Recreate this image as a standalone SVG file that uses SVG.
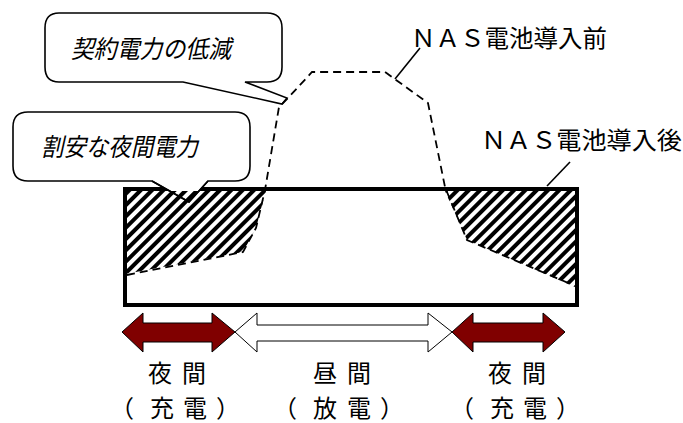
<svg xmlns="http://www.w3.org/2000/svg" width="683" height="423" viewBox="0 0 683 423">
<style>
.t{font-family:"Noto Sans CJK JP","Noto Sans",sans-serif;fill:#000}
.it{font-style:italic}
.bub{fill:#fff;stroke:#000;stroke-width:1.6;stroke-linejoin:miter}
.dash{fill:none;stroke:#000;stroke-width:1.8;stroke-dasharray:8 5}
.lead{fill:none;stroke:#000;stroke-width:1.6}
.red{fill:#800000;stroke:#000;stroke-width:1}
.wht{fill:#fff;stroke:#000;stroke-width:1}
</style>
<defs>
<pattern id="hatch" patternUnits="userSpaceOnUse" width="8" height="8" patternTransform="rotate(45)">
<rect x="0" y="0" width="4" height="8" fill="#000"/>
</pattern>
</defs>
<rect width="683" height="423" fill="#fff"/>
<g id="chart">
<polygon points="125,191 266,191 262,205 256,228 243,252 125,274" fill="#fff"/>
<polygon points="445,191 467,240 575,287 575,191" fill="#fff"/>
<rect x="125" y="189" width="452" height="116" fill="none" stroke="#000" stroke-width="4"/>
</g>
<g id="callout2">
<path class="bub" d="M28,112 H235 Q250,112 250,127 V166 Q250,181 235,181 H208 L189,202 L152,181 H28 Q13,181 13,166 V127 Q13,112 28,112 Z"/>
</g>
<g id="hatching">
<polygon points="125,191 266,191 262,205 256,228 243,252 125,274" fill="url(#hatch)"/>
<polygon points="445,191 467,240 575,287 575,191" fill="url(#hatch)"/>
<polyline class="lead" points="152,181 189,202 208,181"/>
</g>
<g id="callout1">
<path class="bub" d="M59,13 H267 Q282,13 282,28 V67 Q282,82 267,82 H245 L287,98 L282,104 L183,82 H59 Q45,82 45,67 V28 Q45,13 59,13 Z"/>
<text class="t it" x="71" y="58" font-size="25" textLength="160" lengthAdjust="spacingAndGlyphs">契約電力の低減</text>
</g>
<g id="callout2-text">
<text class="t it" x="41" y="156" font-size="25" textLength="157" lengthAdjust="spacingAndGlyphs">割安な夜間電力</text>
</g>
<g id="connectors">
<polyline class="dash" points="127,275 243,252 256,228 265,190 279,107 288,98 312,72 385,72 428,103 445,187 447,192 467,240 573,285"/>
<line class="lead" x1="395" y1="79" x2="420" y2="48"/>
<line class="lead" x1="547" y1="186" x2="570" y2="162"/>
</g>
<g id="label-before">
<text class="t" x="411" y="47" font-size="24" textLength="196" lengthAdjust="spacingAndGlyphs">ＮＡＳ電池導入前</text>
</g>
<g id="label-after">
<text class="t" x="481" y="149" font-size="24" textLength="201" lengthAdjust="spacingAndGlyphs">ＮＡＳ電池導入後</text>
</g>
<g id="arrow-night1">
<polygon class="red" points="122,332 143,313 143,323 212,323 212,313 235,332 212,352 212,342 143,342 143,352"/>
<text class="t" font-size="24"><tspan x="148 182" y="382">夜間</tspan><tspan x="110 150 183 216" y="417">（充電）</tspan></text>
</g>
<g id="arrow-day">
<polygon class="wht" points="235,332 257,313 257,325 428,325 428,313 452,332 428,352 428,341 257,341 257,352"/>
<text class="t" font-size="24"><tspan x="313 347" y="382">昼間</tspan><tspan x="273 313 347 380" y="417">（放電）</tspan></text>
</g>
<g id="arrow-night2">
<polygon class="red" points="452,332 473,313 473,323 543,323 543,313 565,332 543,352 543,342 473,342 473,352"/>
<text class="t" font-size="24"><tspan x="488 522" y="382">夜間</tspan><tspan x="450 490 523 556" y="417">（充電）</tspan></text>
</g>
</svg>
